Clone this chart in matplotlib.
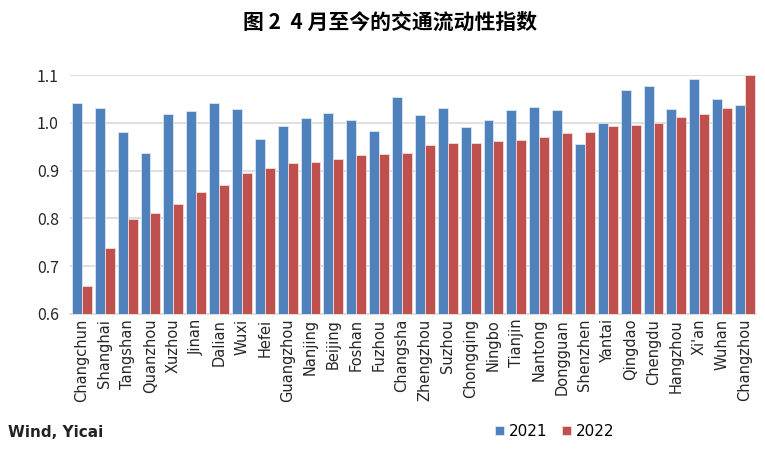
import matplotlib
matplotlib.use('Agg')
import matplotlib.pyplot as plt
import numpy as np

plt.rcParams['font.family'] = ['Noto Sans CJK SC', 'DejaVu Sans']

cities = ['Changchun', 'Shanghai', 'Tangshan', 'Quanzhou', 'Xuzhou', 'Jinan', 'Dalian',
          'Wuxi', 'Hefei', 'Guangzhou', 'Nanjing', 'Beijing', 'Foshan', 'Fuzhou',
          'Changsha', 'Zhengzhou', 'Suzhou', 'Chongqing', 'Ningbo', 'Tianjin', 'Nantong',
          'Dongguan', 'Shenzhen', 'Yantai', 'Qingdao', 'Chengdu', 'Hangzhou', "Xi'an",
          'Wuhan', 'Changzhou']
y2021 = [1.041, 1.032, 0.980, 0.936, 1.018, 1.024, 1.041, 1.028, 0.966, 0.993,
         1.011, 1.021, 1.005, 0.983, 1.054, 1.016, 1.031, 0.991, 1.005, 1.027,
         1.033, 1.027, 0.955, 1.000, 1.068, 1.078, 1.028, 1.092, 1.049, 1.038]
y2022 = [0.658, 0.738, 0.798, 0.811, 0.830, 0.855, 0.869, 0.896, 0.906, 0.915,
         0.919, 0.924, 0.932, 0.934, 0.936, 0.953, 0.958, 0.958, 0.961, 0.963,
         0.971, 0.979, 0.981, 0.994, 0.995, 1.000, 1.012, 1.019, 1.032, 1.101]

blue = '#4F81BD'
red = '#C0504D'

fig = plt.figure(figsize=(7.65, 4.54), dpi=100)
ax = fig.add_axes([0.0915, 0.3084, 0.8967, 0.5264])

x = np.arange(len(cities))
w = 0.435
ax.bar(x - w / 2, y2021, width=w, color=blue, edgecolor='#DCE6F2', linewidth=0.6,
       label='2021', zorder=3)
ax.bar(x + w / 2, y2022, width=w, color=red, edgecolor='#F2DCDB', linewidth=0.6,
       label='2022', zorder=3)

ax.set_ylim(0.6, 1.1)
ax.set_xlim(-0.52, 29.48)
ax.set_yticks([0.6, 0.7, 0.8, 0.9, 1.0, 1.1])
ax.set_yticklabels(['0.6', '0.7', '0.8', '0.9', '1.0', '1.1'])
ax.grid(axis='y', color='#D9D9D9', linewidth=1.2, zorder=0)
for s in ['top', 'right', 'left']:
    ax.spines[s].set_visible(False)
ax.spines['bottom'].set_color('#D9D9D9')
ax.spines['bottom'].set_linewidth(1.2)
ax.tick_params(axis='both', length=0, colors='#262626')
ax.tick_params(axis='y', labelsize=11.5, pad=8)
ax.set_xticks(x)
ax.set_xticklabels(cities, rotation=90, fontsize=10.5, family='DejaVu Sans')

fig.text(0.51, 0.952, '图 2  4 月至今的交通流动性指数', ha='center', va='center',
         fontsize=15, fontweight='bold', color='black')
fig.text(0.011, 0.048, 'Wind, Yicai', ha='left', va='center', fontsize=11,
         fontweight='bold', color='#222222', family='DejaVu Sans')

fig.legend(loc='center', bbox_to_anchor=(0.725, 0.05), ncol=2, frameon=False,
           handlelength=0.6, handleheight=0.6, handletextpad=0.35,
           columnspacing=0.9, prop={'family': 'DejaVu Sans', 'size': 11})

fig.savefig('out.png', dpi=100)
